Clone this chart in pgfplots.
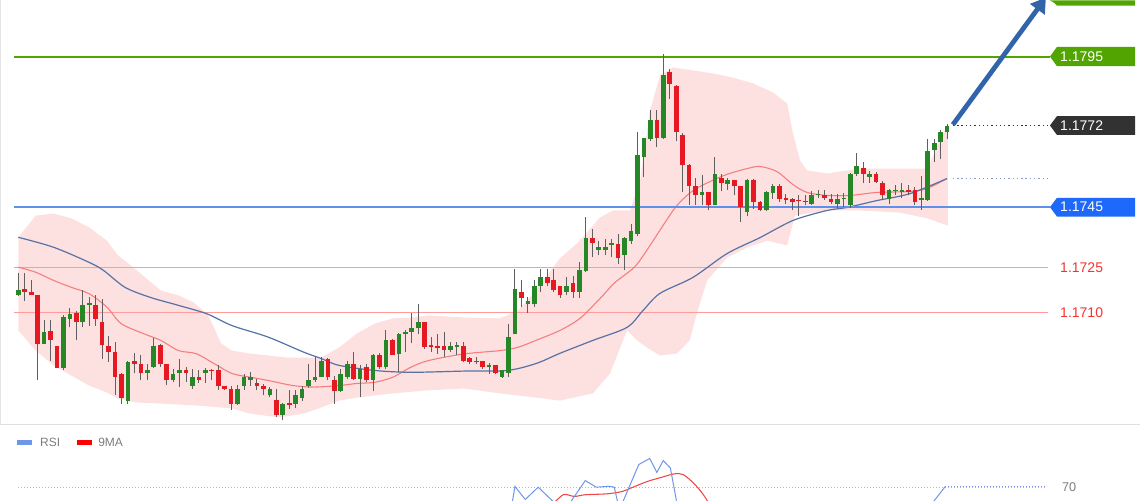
\documentclass[border=0pt]{standalone}
\usepackage{pgfplots}
\pgfplotsset{compat=1.18}
\usepackage{pgfplotstable}
\usepgfplotslibrary{fillbetween}
\usetikzlibrary{arrows.meta}
\usepackage{fontspec}
\setmainfont{Liberation Sans}

\definecolor{cgreen}{RGB}{38,135,38}
\definecolor{cred}{RGB}{230,25,35}
\definecolor{wick}{RGB}{95,95,95}
\definecolor{bandpink}{RGB}{253,224,224}
\definecolor{mared}{RGB}{245,125,125}
\definecolor{mablue}{RGB}{85,115,165}
\definecolor{levgreen}{RGB}{82,165,0}
\definecolor{levblue}{RGB}{95,145,235}
\definecolor{boxblue}{RGB}{30,105,250}
\definecolor{levred}{RGB}{255,155,155}
\definecolor{textred}{RGB}{245,50,50}
\definecolor{boxdark}{RGB}{50,50,50}
\definecolor{arrowblue}{RGB}{50,100,170}
\definecolor{rsiblue}{RGB}{110,150,235}
\definecolor{rsired}{RGB}{240,70,70}
\definecolor{legtext}{RGB}{125,125,125}

\pgfplotsset{candle/.style={only marks, mark=*, mark size=0.1pt, mark options={opacity=0}, forget plot,
  error bars/y dir=plus, error bars/y explicit, error bars/error mark=none}}

% bullish candles
\pgfplotstableread{
i open high low close
0 1.17157 1.17230 1.17154 1.17176
4 1.16997 1.17077 1.16995 1.17037
7 1.16917 1.17091 1.16911 1.17087
8 1.17080 1.17117 1.17051 1.17096
10 1.17068 1.17176 1.17051 1.17127
11 1.17127 1.17151 1.17057 1.17131
17 1.16808 1.16939 1.16797 1.16936
20 1.16899 1.16928 1.16877 1.16908
21 1.16919 1.17015 1.16917 1.16989
24 1.16877 1.16914 1.16869 1.16897
25 1.16899 1.16947 1.16853 1.16908
27 1.16858 1.16914 1.16847 1.16888
29 1.16899 1.16917 1.16866 1.16908
34 1.16797 1.16861 1.16795 1.16847
35 1.16858 1.16897 1.16844 1.16888
36 1.16875 1.16902 1.16858 1.16888
39 1.16825 1.16853 1.16819 1.16847
41 1.16759 1.16799 1.16744 1.16797
43 1.16797 1.16842 1.16784 1.16827
44 1.16817 1.16858 1.16808 1.16847
45 1.16858 1.16928 1.16851 1.16877
46 1.16875 1.16952 1.16869 1.16888
47 1.16888 1.16952 1.16886 1.16938
50 1.16839 1.16914 1.16836 1.16897
51 1.16888 1.16941 1.16880 1.16930
53 1.16880 1.16925 1.16819 1.16914
55 1.16877 1.16963 1.16839 1.16958
57 1.16919 1.17041 1.16914 1.17010
59 1.16963 1.17032 1.16902 1.17030
60 1.17030 1.17041 1.16969 1.17037
61 1.17037 1.17098 1.16999 1.17048
62 1.17048 1.17129 1.17030 1.17068
67 1.16977 1.17002 1.16969 1.16988
68 1.16986 1.17002 1.16961 1.16991
73 1.16919 1.16932 1.16897 1.16925
75 1.16888 1.16910 1.16884 1.16908
76 1.16901 1.17063 1.16886 1.17018
77 1.17030 1.17246 1.17028 1.17179
79 1.17129 1.17151 1.17098 1.17140
80 1.17129 1.17207 1.17120 1.17187
81 1.17190 1.17246 1.17168 1.17218
85 1.17168 1.17218 1.17157 1.17187
87 1.17168 1.17268 1.17149 1.17240
88 1.17238 1.17419 1.17236 1.17348
90 1.17309 1.17339 1.17290 1.17317
91 1.17309 1.17345 1.17290 1.17317
92 1.17325 1.17345 1.17284 1.17330
94 1.17290 1.17350 1.17240 1.17348
95 1.17339 1.17393 1.17329 1.17370
96 1.17362 1.17699 1.17356 1.17622
97 1.17616 1.17681 1.17550 1.17679
98 1.17677 1.17771 1.17671 1.17741
100 1.17679 1.17959 1.17677 1.17889
106 1.17491 1.17558 1.17458 1.17500
108 1.17458 1.17616 1.17456 1.17561
110 1.17528 1.17548 1.17508 1.17541
113 1.17433 1.17544 1.17422 1.17539
116 1.17439 1.17505 1.17437 1.17500
117 1.17496 1.17528 1.17478 1.17519
123 1.17461 1.17505 1.17456 1.17489
124 1.17489 1.17508 1.17481 1.17494
127 1.17459 1.17494 1.17448 1.17478
128 1.17476 1.17496 1.17450 1.17481
129 1.17456 1.17563 1.17448 1.17561
130 1.17561 1.17629 1.17555 1.17588
132 1.17550 1.17570 1.17530 1.17561
135 1.17478 1.17510 1.17461 1.17508
136 1.17503 1.17525 1.17489 1.17508
137 1.17500 1.17530 1.17481 1.17508
140 1.17474 1.17552 1.17441 1.17479
141 1.17475 1.17677 1.17472 1.17638
142 1.17641 1.17677 1.17599 1.17662
143 1.17666 1.17705 1.17611 1.17699
144 1.17699 1.17727 1.17677 1.17721
}\bull

% bearish candles
\pgfplotstableread{
i open high low close
1 1.17177 1.17230 1.17138 1.17168
2 1.17170 1.17207 1.17157 1.17159
3 1.17157 1.17160 1.16878 1.16997
5 1.17038 1.17077 1.16939 1.17010
6 1.16988 1.16990 1.16915 1.16917
9 1.17098 1.17107 1.17008 1.17068
12 1.17127 1.17157 1.17057 1.17080
13 1.17068 1.17146 1.16947 1.16991
14 1.16988 1.17021 1.16936 1.16969
15 1.16969 1.17002 1.16828 1.16888
16 1.16897 1.16899 1.16797 1.16817
18 1.16938 1.16967 1.16898 1.16928
19 1.16928 1.16958 1.16877 1.16899
22 1.16993 1.16997 1.16919 1.16928
23 1.16928 1.16930 1.16861 1.16877
26 1.16908 1.16919 1.16869 1.16899
28 1.16888 1.16908 1.16866 1.16877
30 1.16910 1.16914 1.16875 1.16905
31 1.16908 1.16925 1.16844 1.16858
32 1.16855 1.16858 1.16842 1.16848
33 1.16847 1.16858 1.16778 1.16797
37 1.16868 1.16881 1.16842 1.16857
38 1.16858 1.16864 1.16825 1.16847
40 1.16811 1.16847 1.16753 1.16759
42 1.16799 1.16842 1.16781 1.16793
48 1.16947 1.16949 1.16875 1.16888
49 1.16877 1.16891 1.16797 1.16839
52 1.16928 1.16969 1.16875 1.16880
54 1.16919 1.16928 1.16869 1.16875
56 1.16958 1.16965 1.16914 1.16919
58 1.17010 1.17012 1.16958 1.16961
63 1.17068 1.17070 1.16980 1.16985
64 1.16991 1.17019 1.16969 1.16985
65 1.16989 1.17030 1.16963 1.16984
66 1.16988 1.17035 1.16952 1.16977
69 1.16988 1.17002 1.16936 1.16941
70 1.16949 1.16954 1.16930 1.16936
71 1.16940 1.16952 1.16928 1.16935
72 1.16939 1.16941 1.16914 1.16919
74 1.16925 1.16927 1.16897 1.16899
78 1.17168 1.17207 1.17120 1.17149
82 1.17218 1.17246 1.17187 1.17198
83 1.17209 1.17246 1.17168 1.17174
84 1.17187 1.17189 1.17149 1.17157
86 1.17198 1.17220 1.17149 1.17168
89 1.17348 1.17378 1.17284 1.17330
93 1.17329 1.17362 1.17260 1.17282
99 1.17741 1.17771 1.17649 1.17679
101 1.17900 1.17909 1.17810 1.17860
102 1.17852 1.17854 1.17668 1.17701
103 1.17690 1.17697 1.17500 1.17591
104 1.17591 1.17593 1.17458 1.17520
105 1.17520 1.17546 1.17458 1.17491
107 1.17500 1.17502 1.17439 1.17458
109 1.17547 1.17560 1.17505 1.17529
111 1.17539 1.17541 1.17489 1.17519
112 1.17519 1.17521 1.17400 1.17450
114 1.17539 1.17544 1.17445 1.17467
115 1.17467 1.17472 1.17437 1.17439
118 1.17519 1.17528 1.17467 1.17478
119 1.17479 1.17494 1.17461 1.17474
120 1.17478 1.17480 1.17439 1.17467
121 1.17474 1.17489 1.17422 1.17469
122 1.17472 1.17489 1.17456 1.17467
125 1.17491 1.17508 1.17475 1.17480
126 1.17478 1.17494 1.17459 1.17467
131 1.17581 1.17599 1.17530 1.17561
133 1.17561 1.17566 1.17530 1.17533
134 1.17530 1.17536 1.17475 1.17489
138 1.17508 1.17525 1.17489 1.17500
139 1.17508 1.17516 1.17456 1.17467
}\bear

% Bollinger upper band
\pgfplotstableread{
i v
0 1.17350
2.70 1.17422
5.47 1.17429
8.23 1.17413
10.96 1.17383
13.75 1.17339
15.44 1.17290
17.10 1.17263
19.33 1.17223
22.08 1.17174
24.85 1.17157
27.07 1.17135
29.26 1.17097
30.34 1.17051
31.43 1.16998
33.13 1.16974
35.92 1.16964
38.71 1.16958
41.50 1.16951
46.93 1.16951
49.72 1.16984
52.51 1.17031
55.30 1.17064
58.09 1.17081
60.88 1.17084
63.61 1.17091
69.10 1.17084
74.68 1.17081
77.47 1.17107
80.26 1.17174
83.98 1.17280
87.08 1.17339
90.19 1.17416
92.2 1.17439
94.84 1.17439
96.39 1.17539
97.94 1.17771
99.49 1.17887
101.5 1.17914
104.6 1.17904
107.7 1.17894
110.8 1.17880
113.9 1.17861
117.0 1.17831
119.2 1.17794
120.1 1.17695
121.2 1.17605
122.3 1.17572
125.4 1.17562
130.5 1.17578
141.0 1.17578
142.2 1.17640
143.2 1.17688
144.1 1.17721
}\bandup

% Bollinger lower band
\pgfplotstableread{
i v
0 1.17041
2.70 1.16974
5.47 1.16925
8.23 1.16891
10.96 1.16858
13.75 1.16835
15.46 1.16815
18.25 1.16802
22.12 1.16798
27.55 1.16792
33.13 1.16782
35.92 1.16765
40.42 1.16752
44.29 1.16765
46.93 1.16785
49.72 1.16808
52.51 1.16818
58.09 1.16832
63.52 1.16842
69.10 1.16848
74.68 1.16832
80.26 1.16818
83.98 1.16808
89.1 1.16832
91.74 1.16898
94.37 1.17041
95.92 1.17008
97.47 1.16984
99.49 1.16958
102.1 1.16964
104.1 1.17008
105.2 1.17097
106.8 1.17207
109.9 1.17283
112.98 1.17316
116.1 1.17339
119.2 1.17323
120.4 1.17422
125.4 1.17439
130.5 1.17439
136.7 1.17432
140.9 1.17413
144.1 1.17389
}\bandlo

% red moving average
\pgfplotstableread{
i v
0 1.17251
2.70 1.17234
5.47 1.17207
8.23 1.17184
10.96 1.17163
13.75 1.17118
15.92 1.17064
19.33 1.17031
22.08 1.17008
24.85 1.16974
27.55 1.16964
30.34 1.16931
33.13 1.16898
35.92 1.16886
38.71 1.16875
42.59 1.16858
45.84 1.16853
49.72 1.16858
52.51 1.16865
55.30 1.16869
58.09 1.16886
60.88 1.16919
63.61 1.16941
69.10 1.16963
74.68 1.16974
77.47 1.16985
80.26 1.17008
83.98 1.17041
87.08 1.17081
90.19 1.17147
92.51 1.17200
95.61 1.17253
97.94 1.17323
100.26 1.17399
102.12 1.17456
104.60 1.17505
107.24 1.17535
109.88 1.17559
112.98 1.17578
114.99 1.17585
117.63 1.17568
120.11 1.17525
122.28 1.17499
125.38 1.17489
128.95 1.17489
133.13 1.17499
138.25 1.17502
140.88 1.17512
143.98 1.17545
}\mared

% blue moving average
\pgfplotstableread{
i v
0 1.17350
5.47 1.17317
10.96 1.17267
13.22 1.17240
16.54 1.17184
20.42 1.17151
24.85 1.17124
29.26 1.17096
33.13 1.17057
38.71 1.17019
44.23 1.16969
46.93 1.16948
49.72 1.16925
55.30 1.16908
60.88 1.16902
69.10 1.16906
75.77 1.16908
80.26 1.16931
83.98 1.16965
89.10 1.17008
94.37 1.17051
96.85 1.17107
99.49 1.17164
104.60 1.17217
109.88 1.17296
114.99 1.17349
120.11 1.17406
125.38 1.17439
128.48 1.17449
133.13 1.17472
138.25 1.17495
143.98 1.17545
}\mablue

% RSI (visible part) and its 9MA
\pgfplotstableread{
i v
76.4 58
77.0 70.4
78.6 63.5
80.6 70.0
82.9 62.5
84.8 58
87.9 73.5
89.6 70.0
91.6 70.5
92.4 70.0
93.2 58
94.7 70.0
96.2 82.0
97.9 85.2
99.0 77.8
100.0 84.1
101.1 80.1
102.3 58
}\rsiA
\pgfplotstableread{
i v
140.9 58
143.7 70.3
}\rsiB
\pgfplotstableread{
i v
82.6 60
84.5 66.0
86.2 65.1
87.9 66.0
91.3 66.5
93.6 67.7
95.3 70.0
97.5 73.0
99.8 75.3
101.8 77.1
103.1 76.6
104.8 71.8
106.3 65.6
107.3 60
}\rsima

\begin{document}
\begin{tikzpicture}
\begin{axis}[
  at={(0,0)}, anchor=south west,
  scale only axis, width=855pt, height=375pt,
  xmin=-2.8372, xmax=173.907,
  ymin=1.164765, ymax=1.18136,
  hide axis, clip=true,
]
% band
\addplot[draw=none, name path=bu, forget plot] table[x=i,y=v]{\bandup};
\addplot[draw=none, name path=bl, forget plot] table[x=i,y=v]{\bandlo};
\addplot[fill=bandpink, draw=none, forget plot] fill between[of=bu and bl];
% level lines
\addplot[levred, line width=1.1pt, forget plot] coordinates {(-0.73,1.1725) (159.6,1.1725)};
\addplot[levred, line width=1.1pt, forget plot] coordinates {(-0.73,1.1710) (159.6,1.1710)};
% moving averages
\addplot[mared, line width=0.8pt, smooth, forget plot] table[x=i,y=v]{\mared};
\addplot[mablue, line width=0.9pt, smooth, forget plot] table[x=i,y=v]{\mablue};
\addplot[levgreen, line width=1.5pt, forget plot] coordinates {(-0.73,1.1795) (159.95,1.1795)};
\addplot[levblue, line width=1.5pt, forget plot] coordinates {(-0.73,1.1745) (159.95,1.1745)};
% wicks
\addplot[candle, error bars/error bar style={draw=wick, line width=0.75pt}]
  table[x=i, y=low, y error expr=\thisrow{high}-\thisrow{low}]{\bull};
\addplot[candle, error bars/error bar style={draw=wick, line width=0.75pt}]
  table[x=i, y=low, y error expr=\thisrow{high}-\thisrow{low}]{\bear};
% bodies
\addplot[candle, error bars/error bar style={draw=cgreen, line width=3.5pt}]
  table[x=i, y=open, y error expr=\thisrow{close}-\thisrow{open}]{\bull};
\addplot[candle, error bars/error bar style={draw=cred, line width=3.5pt}]
  table[x=i, y=close, y error expr=\thisrow{open}-\thisrow{close}]{\bear};
% dotted guides
\addplot[boxdark, line width=0.8pt, dash pattern=on 1pt off 2.2pt, forget plot] coordinates {(144.9,1.17721) (159.95,1.17721)};
\addplot[mablue!70, line width=0.8pt, dash pattern=on 1pt off 2.2pt, forget plot] coordinates {(144.9,1.17546) (159.5,1.17546)};
% arrow
\addplot[arrowblue, line width=3.6pt, -{Triangle[length=11pt,width=13pt]}, forget plot] coordinates {(144.9,1.17724) (159.33,1.18146)};
% label boxes
\fill[levgreen] (axis cs:159.95,1.18136) -- (axis cs:160.55,1.18136) -- (axis cs:173.14,1.18136) -- (axis cs:173.14,1.18119) -- (axis cs:161.03,1.18119) -- (axis cs:160.5,1.18130) -- cycle;
\fill[levgreen] (axis cs:159.95,1.1795) -- (axis cs:161.03,1.17982) -- (axis cs:173.14,1.17982) -- (axis cs:173.14,1.17918) -- (axis cs:161.03,1.17918) -- cycle;
\fill[boxdark] (axis cs:159.95,1.17721) -- (axis cs:161.03,1.17752) -- (axis cs:173.14,1.17752) -- (axis cs:173.14,1.17690) -- (axis cs:161.03,1.17690) -- cycle;
\fill[boxblue] (axis cs:159.95,1.1745) -- (axis cs:161.03,1.17481) -- (axis cs:173.14,1.17481) -- (axis cs:173.14,1.17419) -- (axis cs:161.03,1.17419) -- cycle;
\node[anchor=west, text=white, font=\fontsize{10.5}{12}\selectfont, inner sep=0pt] at (axis cs:161.5,1.1795) {1.1795};
\node[anchor=west, text=white, font=\fontsize{10.5}{12}\selectfont, inner sep=0pt] at (axis cs:161.5,1.17721) {1.1772};
\node[anchor=west, text=white, font=\fontsize{10.5}{12}\selectfont, inner sep=0pt] at (axis cs:161.5,1.1745) {1.1745};
\node[anchor=west, text=textred, font=\fontsize{10.5}{12}\selectfont, inner sep=0pt] at (axis cs:161.5,1.1725) {1.1725};
\node[anchor=west, text=textred, font=\fontsize{10.5}{12}\selectfont, inner sep=0pt] at (axis cs:161.5,1.1710) {1.1710};
\end{axis}

\begin{axis}[
  at={(0,0)}, anchor=south west,
  scale only axis, width=855pt, height=57pt,
  xmin=-2.8372, xmax=173.907,
  ymin=62.96, ymax=103.17,
  hide axis, clip=true,
]
\addplot[gray!25, line width=0.75pt, forget plot] coordinates {(-2.8,103.0) (173.9,103.0)};
\addplot[gray!55, line width=0.75pt, dash pattern=on 0.75pt off 1.5pt, forget plot] coordinates {(0,70) (159.3,70)};
\addplot[rsiblue, line width=0.75pt, dash pattern=on 0.75pt off 1.5pt, forget plot] coordinates {(143.7,70.3) (159.3,70.3)};
\addplot[rsired, line width=0.8pt, smooth, forget plot] table[x=i,y=v]{\rsima};
\addplot[rsiblue, line width=0.75pt, forget plot] table[x=i,y=v]{\rsiA};
\addplot[rsiblue, line width=0.75pt, forget plot] table[x=i,y=v]{\rsiB};
\fill[rsiblue] (axis cs:-0.25,92.33) rectangle (axis cs:2.08,94.97);
\node[anchor=west, text=legtext, font=\fontsize{9}{10}\selectfont, inner sep=0pt] at (axis cs:3.36,93.5) {RSI};
\fill[red] (axis cs:9.05,92.33) rectangle (axis cs:11.38,94.97);
\node[anchor=west, text=legtext, font=\fontsize{9}{10}\selectfont, inner sep=0pt] at (axis cs:12.36,93.5) {9MA};
\node[anchor=west, text=legtext, font=\fontsize{9.5}{10}\selectfont, inner sep=0pt] at (axis cs:161.8,70) {70};
\end{axis}
\draw[gray!20, line width=0.75pt] (0.4pt,57pt) -- (0.4pt,375pt);
\path (0,0) rectangle (855pt,375pt);
\end{tikzpicture}
\end{document}
